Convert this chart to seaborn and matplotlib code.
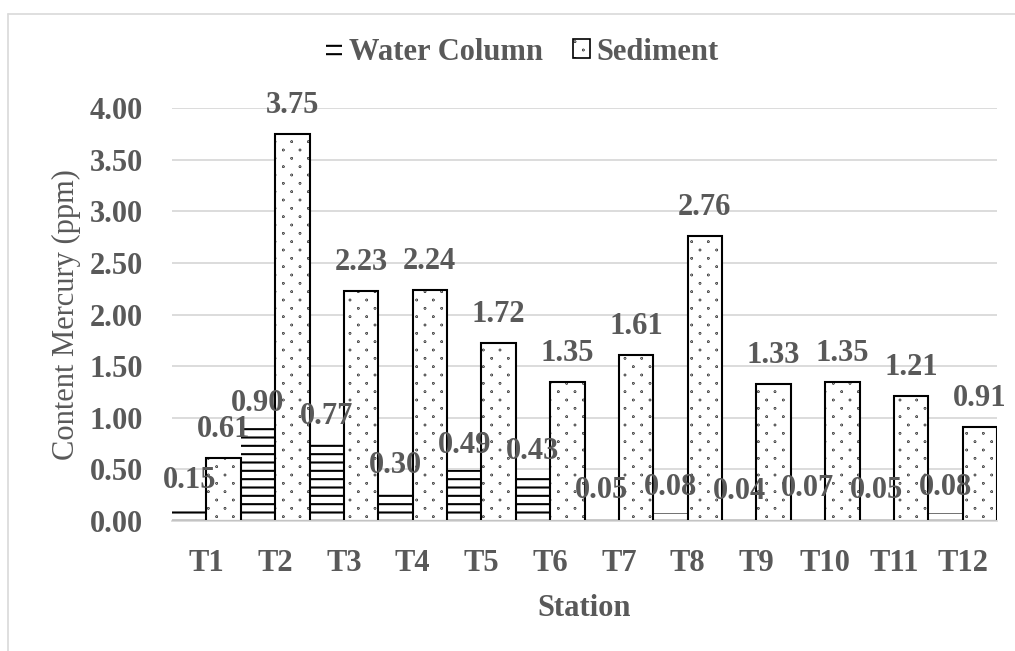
import matplotlib
matplotlib.use("Agg")
import matplotlib.pyplot as plt
import matplotlib.hatch as mhatch
from matplotlib.path import Path
from matplotlib.patches import Patch
from matplotlib.lines import Line2D
import numpy as np
import seaborn as sns
import pandas as pd

stations = ["T1", "T2", "T3", "T4", "T5", "T6", "T7", "T8", "T9", "T10", "T11", "T12"]
water = [0.15, 0.90, 0.77, 0.30, 0.49, 0.43, 0.05, 0.08, 0.04, 0.07, 0.05, 0.08]
sediment = [0.61, 3.75, 2.23, 2.24, 1.72, 1.35, 1.61, 2.76, 1.33, 1.35, 1.21, 0.91]
series = ["Water Column", "Sediment"]
yticks = [0.0, 0.5, 1.0, 1.5, 2.0, 2.5, 3.0, 3.5, 4.0]


# Sparse staggered dot texture (Excel "5%"-like pattern): rows twice as dense as columns
class SparseDots(mhatch.HatchPatternBase):
    filled = True

    def __init__(self, hatch, density):
        n = hatch.count('.')
        self.rows = 2 * n * density
        self.cols = n * density
        circ = Path.unit_circle()
        self.shape_vertices = circ.vertices
        self.shape_codes = circ.codes
        if n == 0:
            self.num_vertices = 0
        else:
            nshapes = (self.rows // 2 + 1) * (self.cols + 1) + (self.rows // 2) * self.cols
            self.num_vertices = nshapes * len(self.shape_vertices)

    def set_vertices_and_codes(self, vertices, codes):
        sv = self.shape_vertices * 0.003
        vparts, cparts = [], []
        for r in range(self.rows + 1):
            y = r / self.rows
            if r % 2 == 0:
                xs = np.linspace(0, 1, self.cols + 1)
            else:
                xs = np.linspace(0.5 / self.cols, 1 - 0.5 / self.cols, self.cols)
            for x in xs:
                vparts.append(sv + [x, y])
                cparts.append(self.shape_codes)
        np.concatenate(vparts, out=vertices)
        np.concatenate(cparts, out=codes)


mhatch._hatch_types = [SparseDots if t is mhatch.SmallFilledCircles else t
                       for t in mhatch._hatch_types]

df = pd.DataFrame({
    "Station": stations * 2,
    "Value": water + sediment,
    "Series": [series[0]] * len(stations) + [series[1]] * len(stations),
})

sns.set_theme(style="white")
plt.rcParams["font.family"] = ["Liberation Serif", "DejaVu Serif"]
plt.rcParams["hatch.linewidth"] = 1.5
GRAY = "#595959"
FS = 22

fig = plt.figure(figsize=(10.15, 6.51), dpi=100)
ax = fig.add_axes([172 / 1015, 1 - 521 / 651, (997 - 172) / 1015, (521 - 108) / 651])

sns.barplot(data=df, x="Station", y="Value", hue="Series", order=stations,
            hue_order=series, width=1.0, ax=ax, legend=False,
            palette=["white", "white"], saturation=1)

containers = ax.containers
for bar in containers[0]:
    bar.set_facecolor("white")
    bar.set_edgecolor("black")
    bar.set_linewidth(0)
    bar.set_hatch("--")
for bar in containers[1]:
    bar.set_facecolor("white")
    bar.set_edgecolor("black")
    bar.set_linewidth(1.5)
    bar.set_hatch(".")

offsets = [18, 20.5]
for cont, vals, off in zip(containers, [water, sediment], offsets):
    for bar, v in zip(cont, vals):
        ax.annotate(f"{v:.2f}", xy=(bar.get_x() + bar.get_width() / 2, bar.get_height()),
                    xytext=(0, off), textcoords="offset points", ha="center", va="center",
                    fontsize=FS, fontweight="bold", color=GRAY)

ax.set_ylim(0, 4.0)
ax.set_xlim(-0.5, len(stations) - 0.5)
ax.set_yticks(yticks)
ax.set_yticklabels([f"{t:.2f}" for t in yticks])
ax.yaxis.grid(True, color="#d9d9d9", linewidth=1.3)
ax.set_axisbelow(True)
for s in ["left", "right", "top"]:
    ax.spines[s].set_visible(False)
ax.spines["bottom"].set_color("#d9d9d9")
ax.spines["bottom"].set_linewidth(1.3)
ax.tick_params(axis="both", length=0, labelsize=FS, labelcolor=GRAY)
ax.tick_params(axis="x", pad=20)
ax.tick_params(axis="y", pad=21)
for lab in ax.get_xticklabels() + ax.get_yticklabels():
    lab.set_fontweight("bold")

ax.set_xlabel("Station", fontsize=FS, fontweight="bold", color=GRAY, labelpad=12)
ax.set_ylabel("Content Mercury (ppm)", fontsize=FS, color=GRAY, labelpad=6)

handles = [Patch(facecolor="white", edgecolor="black", hatch="--", linewidth=0),
           Patch(facecolor="white", edgecolor="black", hatch=".", linewidth=1.2)]
leg = fig.legend(handles, series, loc="center", bbox_to_anchor=(522 / 1015, 1 - 52 / 651),
                 ncol=2, frameon=False, handlelength=0.55, handleheight=0.55,
                 handletextpad=0.2, columnspacing=1.0,
                 prop={"family": ["Liberation Serif"], "weight": "bold", "size": FS})
for t in leg.get_texts():
    t.set_color(GRAY)

# outer chart border (left and top edges visible)
fig.add_artist(Line2D([8 / 1015, 8 / 1015], [0, 1 - 14 / 651], transform=fig.transFigure,
                      color="#d9d9d9", linewidth=1.2))
fig.add_artist(Line2D([8 / 1015, 1], [1 - 14 / 651, 1 - 14 / 651], transform=fig.transFigure,
                      color="#d9d9d9", linewidth=1.2))

fig.savefig("out.png", dpi=100)
